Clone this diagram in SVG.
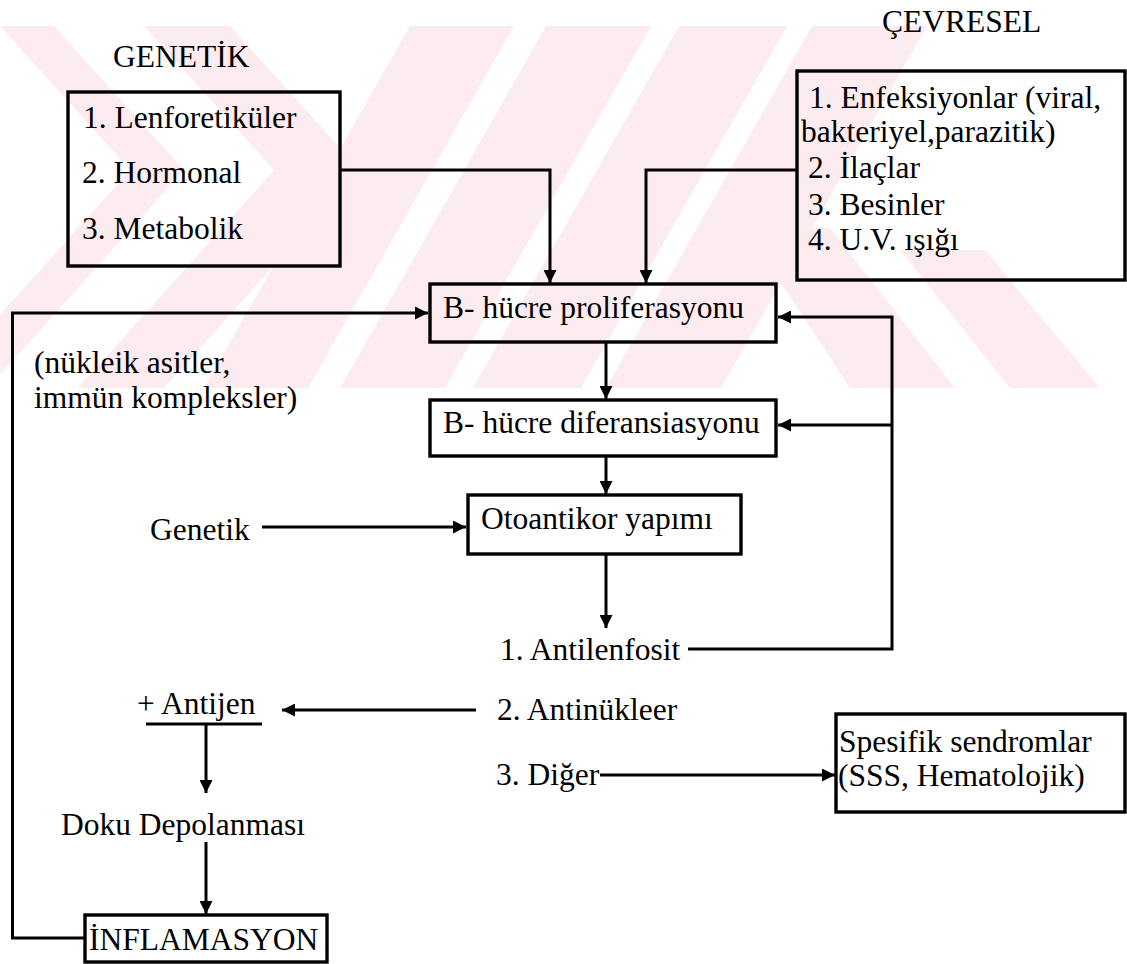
<svg xmlns="http://www.w3.org/2000/svg" width="1127" height="964" viewBox="0 0 1127 964">
<style>
  text { font-family: "Liberation Serif", "Times New Roman", serif; font-size: 31.5px; fill: #000; }
  .box { fill: none; stroke: #000; stroke-width: 3.4; }
  .wire { fill: none; stroke: #000; stroke-width: 3; }
  .wm { fill: #fdecef; }
</style>
<defs>
  <marker id="ah" viewBox="0 0 12 12" refX="12" refY="6" markerWidth="13" markerHeight="13" orient="auto" markerUnits="userSpaceOnUse">
    <path d="M0,0 L12,6 L0,12 Z" fill="#000"/>
  </marker>
  <clipPath id="band"><rect x="0" y="26" width="1127" height="362"/></clipPath>
</defs>
<rect x="0" y="0" width="1127" height="964" fill="#fff"/>
<g id="watermark" clip-path="url(#band)">
  <polygon class="wm" points="0,26 54,26 184,170 -12,388 -66,388 130,170"/>
  <polygon class="wm" points="144,26 230,26 360,170 164,388 78,388 274,170"/>
  <polygon class="wm" points="410,26 514,26 308,388 204,388"/>
  <polygon class="wm" points="546,26 651,26 445,388 340,388"/>
  <polygon class="wm" points="679,26 787,26 581,388 473,388"/>
  <polygon class="wm" points="812,26 927,26 721,388 606,388"/>
  <polygon class="wm" points="745,228 830,228 955,388 850,388"/>
  <polygon class="wm" points="900,250 985,250 1100,388 1010,388"/>
</g>
<g id="connectors">
  <path class="wire" d="M340,170 H550 V283" marker-end="url(#ah)"/>
  <path class="wire" d="M797,170 H646 V283" marker-end="url(#ah)"/>
  <path class="wire" d="M606,342 V399" marker-end="url(#ah)"/>
  <path class="wire" d="M606,456 V494" marker-end="url(#ah)"/>
  <path class="wire" d="M606,554 V628" marker-end="url(#ah)"/>
  <path class="wire" d="M262,527 H466" marker-end="url(#ah)"/>
  <path class="wire" d="M688,649 H892 V317 H778" marker-end="url(#ah)"/>
  <path class="wire" d="M892,425 H778" marker-end="url(#ah)"/>
  <path class="wire" d="M476,710 H282" marker-end="url(#ah)"/>
  <path class="wire" d="M206,725 V793" marker-end="url(#ah)"/>
  <path class="wire" d="M206,842 V914" marker-end="url(#ah)"/>
  <path class="wire" d="M85,938 H12.5 V313 H428" marker-end="url(#ah)"/>
  <path class="wire" d="M600,775 H835" marker-end="url(#ah)"/>
</g>
<g id="genetik">
  <text x="113" y="67">GENETİK</text>
  <rect class="box" x="68" y="92" width="272" height="174"/>
  <text x="83" y="128">1. Lenforetiküler</text>
  <text x="82" y="183">2. Hormonal</text>
  <text x="82" y="239">3. Metabolik</text>
</g>
<g id="cevresel">
  <text x="882" y="32">ÇEVRESEL</text>
  <rect class="box" x="797" y="71" width="328" height="209"/>
  <text x="809" y="108">1. Enfeksiyonlar (viral,</text>
  <text x="801" y="142">bakteriyel,parazitik)</text>
  <text x="808" y="178">2. İlaçlar</text>
  <text x="808" y="215">3. Besinler</text>
  <text x="808" y="250">4. U.V. ışığı</text>
</g>
<g id="proliferasyon">
  <rect class="box" x="430" y="284" width="346" height="58"/>
  <text x="443" y="318">B- hücre proliferasyonu</text>
</g>
<g id="diferansiasyon">
  <rect class="box" x="430" y="400" width="346" height="56"/>
  <text x="443" y="433">B- hücre diferansiasyonu</text>
</g>
<g id="otoantikor">
  <rect class="box" x="468" y="495" width="273" height="59"/>
  <text x="481" y="529">Otoantikor yapımı</text>
</g>
<g id="genetik-input">
  <text x="150" y="540">Genetik</text>
</g>
<g id="feedback-label">
  <text x="34" y="373">(nükleik asitler,</text>
  <text x="34" y="408">immün kompleksler)</text>
</g>
<g id="otoantikor-list">
  <text x="500" y="660">1. Antilenfosit</text>
  <text x="497" y="720">2. Antinükleer</text>
  <text x="496" y="785">3. Diğer</text>
</g>
<g id="antijen">
  <text x="137" y="714">+ Antijen</text>
  <line x1="146" y1="724" x2="262" y2="724" stroke="#000" stroke-width="3"/>
</g>
<g id="doku">
  <text x="61" y="835">Doku Depolanması</text>
</g>
<g id="inflamasyon">
  <rect class="box" x="85" y="915" width="242" height="47"/>
  <text x="89" y="950">İNFLAMASYON</text>
</g>
<g id="spesifik">
  <rect class="box" x="836" y="714" width="289" height="98"/>
  <text x="839" y="752">Spesifik sendromlar</text>
  <text x="838" y="786">(SSS, Hematolojik)</text>
</g>
</svg>
